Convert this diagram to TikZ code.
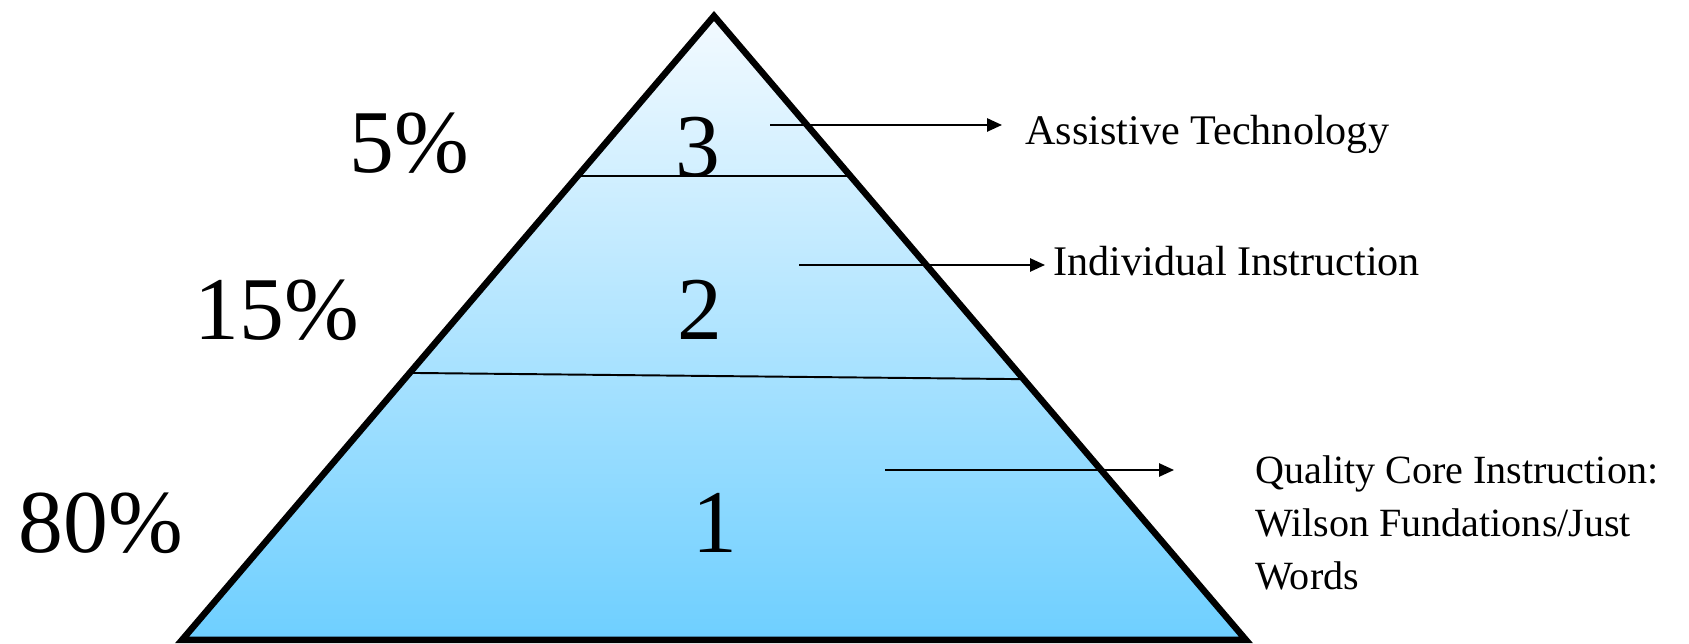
\documentclass[tikz,border=0pt]{standalone}
\usepackage{fontspec}
\setmainfont{Liberation Serif}
\usetikzlibrary{arrows.meta, calc}
\definecolor{tiptop}{RGB}{243, 250, 255}
\definecolor{tipbase}{RGB}{110, 207, 255}

\begin{document}
\begin{tikzpicture}[
    pct/.style={anchor=base, inner sep=0pt, font=\fontsize{51}{60}\selectfont},
    tier/.style={anchor=base, inner sep=0pt, font=\fontsize{51}{60}\selectfont},
    lbl/.style={anchor=base west, inner sep=0pt, font=\fontsize{24}{29}\selectfont},
    divider/.style={-, black, line width=1.1pt},
    pointer/.style={-{Triangle[length=8.5pt, width=7.5pt]}, black, line width=1.1pt}]

    \useasboundingbox (0,0) rectangle (33.78,12.88);

    \coordinate (apex) at (14.28, 12.56);
    \coordinate (bl) at (3.64, 0.08);
    \coordinate (br) at (24.92, 0.08);

    % pyramid body
    \fill[top color=tiptop, bottom color=tipbase] (apex) -- (bl) -- (br) -- cycle;

    % tier borders
    \draw[divider] ($(apex)!0.2564!(bl)$) -- ($(apex)!0.2564!(br)$);
    \draw[divider] ($(apex)!0.572!(bl)$) -- ($(apex)!0.582!(br)$);

    \node[tier] (n3) at (13.96, 9.34) {3};
    \node[tier] (n2) at (14.00, 6.08) {2};
    \node[tier] (n1) at (14.30, 1.82) {1};

    \node[pct] (p3) at (8.19, 9.42) {5\%};
    \node[pct] (p2) at (5.54, 6.08) {15\%};
    \node[pct] (p1) at (2.02, 1.82) {80\%};

    \coordinate (s3) at (15.40, 10.38);
    \coordinate (t3) at (20.04, 10.38);
    \coordinate (s2) at (15.98, 7.58);
    \coordinate (t2) at (20.90, 7.58);
    \coordinate (s1) at (17.70, 3.48);
    \coordinate (t1) at (23.48, 3.48);

    \draw[pointer] (s3) -- (t3);
    \draw[pointer] (s2) -- (t2);
    \draw[pointer] (s1) -- (t1);

    \draw[line width=3.7pt, line join=miter] (apex) -- (bl) -- (br) -- cycle;

    \node[lbl] (l3) at (20.50, 9.98) {Assistive Technology};
    \node[lbl] (l2) at (21.06, 7.36) {Individual Instruction};
    \node[lbl, align=left, font=\fontsize{22.8}{30.3}\selectfont] (l1) at (25.10, 1.08)
        {Quality Core Instruction:\\Wilson Fundations/Just\\Words};
  \end{tikzpicture}
\end{document}
